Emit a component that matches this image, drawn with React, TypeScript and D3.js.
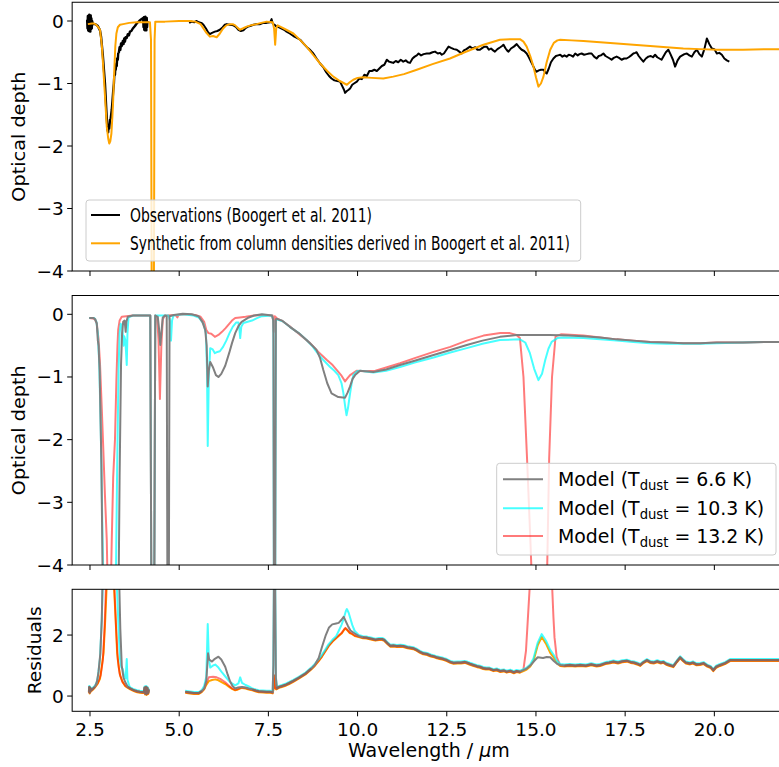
import React from 'react';
import * as d3 from 'd3';

type Pt = [number, number];

// ---------- Panel 1: observations & synthetic ----------
const obsSeg1: Pt[] = [[2.42,0.02],[2.43,-0.12],[2.44,0.08],[2.45,-0.15],[2.46,0.05],[2.47,-0.16],[2.48,0.1],[2.49,-0.14],[2.5,0.06],[2.51,-0.17],[2.52,0.09],[2.53,-0.13],[2.54,0.04],[2.55,-0.12],[2.56,0.0],[2.58,-0.05],[2.65,-0.05],[2.72,-0.08],[2.78,-0.15],[2.81,-0.25],[2.86,-0.55],[2.92,-1.0],[2.96,-1.45],[2.99,-1.74],[3.01,-1.78],[3.02,-1.66],[3.04,-1.72],[3.06,-1.58],[3.08,-1.56],[3.11,-1.42],[3.13,-1.28],[3.15,-1.12],[3.17,-1.0],[3.18,-0.88],[3.2,-0.86],[3.21,-0.74],[3.22,-0.78],[3.24,-0.68],[3.25,-0.72],[3.26,-0.6],[3.28,-0.62],[3.29,-0.52],[3.31,-0.5],[3.33,-0.42],[3.35,-0.46],[3.37,-0.36],[3.39,-0.4],[3.42,-0.32],[3.44,-0.37],[3.46,-0.28],[3.48,-0.33],[3.5,-0.26],[3.53,-0.27],[3.56,-0.21],[3.59,-0.23],[3.62,-0.17],[3.66,-0.16],[3.7,-0.12],[3.76,-0.08],[3.81,-0.04],[3.88,0.0],[3.94,0.03],[3.99,0.05],[4.0,-0.1],[4.01,0.06],[4.02,-0.14],[4.03,0.04],[4.04,-0.15],[4.05,0.07],[4.06,-0.12],[4.07,0.03],[4.08,-0.15],[4.09,0.05],[4.1,-0.1],[4.11,0.0]];

const obsSeg2: Pt[] = [[5.28,-0.03],[5.35,-0.01],[5.42,-0.02],[5.49,0.0],[5.55,-0.02],[5.62,-0.03],[5.68,-0.06],[5.75,-0.12],[5.81,-0.18],[5.86,-0.21],[5.92,-0.19],[6.0,-0.17],[6.07,-0.16],[6.14,-0.14],[6.22,-0.1],[6.28,-0.06],[6.33,-0.05],[6.42,-0.06],[6.52,-0.07],[6.6,-0.1],[6.66,-0.14],[6.73,-0.16],[6.8,-0.15],[6.87,-0.11],[6.93,-0.09],[6.99,-0.08],[7.08,-0.06],[7.17,-0.05],[7.27,-0.05],[7.36,-0.03],[7.45,-0.03],[7.55,-0.02],[7.59,0.03],[7.62,-0.04],[7.67,-0.06],[7.73,-0.09],[7.8,-0.1],[7.87,-0.12],[7.94,-0.14],[8.01,-0.17],[8.1,-0.2],[8.2,-0.24],[8.3,-0.27],[8.39,-0.3],[8.5,-0.37],[8.6,-0.43],[8.68,-0.47],[8.76,-0.52],[8.85,-0.6],[8.95,-0.68],[9.04,-0.74],[9.12,-0.82],[9.2,-0.88],[9.27,-0.92],[9.35,-0.95],[9.43,-0.96],[9.51,-0.97],[9.56,-1.03],[9.62,-1.1],[9.65,-1.15],[9.7,-1.12],[9.75,-1.1],[9.79,-1.08],[9.85,-1.02],[9.9,-1.0],[9.98,-0.97],[10.05,-0.92],[10.12,-0.93],[10.19,-0.86],[10.26,-0.88],[10.33,-0.8],[10.4,-0.8],[10.47,-0.78],[10.54,-0.8],[10.61,-0.76],[10.68,-0.72],[10.75,-0.7],[10.82,-0.62],[10.88,-0.65],[10.94,-0.66],[11.0,-0.67],[11.07,-0.64],[11.14,-0.66],[11.21,-0.62],[11.28,-0.65],[11.35,-0.63],[11.41,-0.66],[11.47,-0.67],[11.54,-0.6],[11.6,-0.57],[11.66,-0.55],[11.71,-0.52],[11.78,-0.55],[11.85,-0.53],[11.94,-0.52],[12.02,-0.52],[12.1,-0.5],[12.17,-0.49],[12.25,-0.52],[12.31,-0.51],[12.36,-0.54],[12.42,-0.52],[12.49,-0.46],[12.55,-0.41],[12.62,-0.43],[12.7,-0.45],[12.78,-0.46],[12.85,-0.49],[12.92,-0.52],[12.98,-0.47],[13.05,-0.45],[13.1,-0.43],[13.15,-0.41],[13.22,-0.44],[13.3,-0.42],[13.36,-0.46],[13.43,-0.46],[13.5,-0.43],[13.56,-0.41],[13.62,-0.41],[13.68,-0.46],[13.74,-0.44],[13.8,-0.47],[13.85,-0.49],[13.92,-0.45],[14.0,-0.42],[14.05,-0.4],[14.09,-0.38],[14.15,-0.44],[14.19,-0.47],[14.23,-0.49],[14.3,-0.44],[14.38,-0.41],[14.46,-0.37],[14.53,-0.42],[14.6,-0.46],[14.67,-0.48],[14.74,-0.52],[14.8,-0.58],[14.87,-0.66],[14.93,-0.73],[14.98,-0.79],[15.02,-0.81],[15.08,-0.79],[15.14,-0.78],[15.21,-0.78],[15.26,-0.82],[15.3,-0.84],[15.36,-0.76],[15.42,-0.66],[15.49,-0.6],[15.56,-0.56],[15.62,-0.55],[15.68,-0.54],[15.74,-0.57],[15.8,-0.55],[15.86,-0.57],[15.92,-0.54],[15.98,-0.55],[16.04,-0.57],[16.1,-0.52],[16.17,-0.55],[16.22,-0.53],[16.28,-0.52],[16.35,-0.54],[16.42,-0.53],[16.49,-0.52],[16.56,-0.52],[16.63,-0.57],[16.7,-0.6],[16.76,-0.56],[16.82,-0.55],[16.89,-0.52],[16.95,-0.56],[17.01,-0.58],[17.07,-0.6],[17.12,-0.62],[17.18,-0.59],[17.26,-0.57],[17.33,-0.59],[17.4,-0.62],[17.47,-0.6],[17.54,-0.6],[17.6,-0.58],[17.67,-0.55],[17.73,-0.52],[17.78,-0.51],[17.82,-0.5],[17.88,-0.56],[17.95,-0.61],[18.01,-0.65],[18.08,-0.6],[18.15,-0.57],[18.22,-0.56],[18.28,-0.58],[18.34,-0.54],[18.4,-0.58],[18.46,-0.6],[18.52,-0.62],[18.58,-0.56],[18.64,-0.5],[18.71,-0.46],[18.77,-0.53],[18.84,-0.62],[18.9,-0.73],[18.97,-0.63],[19.04,-0.57],[19.1,-0.55],[19.16,-0.53],[19.23,-0.52],[19.3,-0.55],[19.37,-0.57],[19.44,-0.5],[19.51,-0.46],[19.58,-0.53],[19.65,-0.57],[19.72,-0.45],[19.79,-0.28],[19.86,-0.37],[19.93,-0.44],[20.0,-0.45],[20.07,-0.52],[20.14,-0.51],[20.21,-0.54],[20.28,-0.6],[20.35,-0.63],[20.42,-0.65]];

const synthetic: Pt[] = [[2.44,-0.05],[2.55,-0.04],[2.62,-0.04],[2.67,-0.06],[2.72,-0.09],[2.78,-0.14],[2.83,-0.38],[2.87,-0.73],[2.92,-1.2],[2.97,-1.69],[3.01,-1.88],[3.04,-1.96],[3.07,-1.92],[3.1,-1.8],[3.13,-1.5],[3.15,-1.26],[3.18,-0.8],[3.21,-0.4],[3.24,-0.2],[3.28,-0.1],[3.34,-0.06],[3.43,-0.05],[3.6,-0.03],[3.8,-0.02],[4.0,-0.02],[4.18,-0.02],[4.21,-0.3],[4.23,-4.5],[4.29,-4.5],[4.31,-0.3],[4.33,-0.01],[4.6,-0.01],[5.0,0.0],[5.3,0.0],[5.45,-0.01],[5.6,-0.05],[5.75,-0.18],[5.86,-0.25],[5.95,-0.24],[6.05,-0.26],[6.14,-0.2],[6.23,-0.12],[6.32,-0.07],[6.42,-0.05],[6.5,-0.05],[6.57,-0.07],[6.64,-0.11],[6.7,-0.14],[6.78,-0.12],[6.89,-0.09],[7.0,-0.07],[7.17,-0.05],[7.3,-0.03],[7.45,-0.01],[7.62,-0.02],[7.66,-0.12],[7.69,-0.38],[7.72,-0.12],[7.76,-0.07],[7.83,-0.09],[8.0,-0.14],[8.2,-0.2],[8.4,-0.31],[8.57,-0.41],[8.75,-0.54],[8.95,-0.68],[9.15,-0.8],[9.32,-0.89],[9.5,-0.96],[9.7,-1.02],[9.78,-0.98],[9.88,-0.94],[10.0,-0.91],[10.16,-0.9],[10.4,-0.91],[10.72,-0.92],[11.0,-0.89],[11.3,-0.85],[11.66,-0.78],[12.1,-0.69],[12.59,-0.6],[13.0,-0.5],[13.53,-0.38],[13.99,-0.3],[14.3,-0.29],[14.55,-0.29],[14.65,-0.33],[14.74,-0.41],[14.84,-0.56],[14.93,-0.73],[15.0,-0.9],[15.07,-1.05],[15.14,-1.0],[15.21,-0.89],[15.3,-0.66],[15.4,-0.46],[15.5,-0.35],[15.6,-0.31],[15.68,-0.3],[16.0,-0.31],[16.33,-0.32],[16.8,-0.34],[17.27,-0.36],[17.73,-0.38],[18.2,-0.4],[18.66,-0.42],[19.13,-0.44],[19.6,-0.45],[20.07,-0.46],[20.8,-0.46],[21.56,-0.45],[22.0,-0.45]];

// ---------- Panel 2: models ----------
const model66: Pt[] = [[2.48,-0.06],[2.6,-0.06],[2.65,-0.08],[2.69,-0.15],[2.72,-0.42],[2.74,-0.5],[2.77,-0.9],[2.82,-2.4],[2.86,-4.5],[3.3,-4.5],[3.33,-2.6],[3.37,-0.8],[3.4,-0.3],[3.43,-0.12],[3.47,-0.1],[3.5,-0.28],[3.52,-0.12],[3.56,-0.04],[3.7,-0.02],[4.19,-0.02],[4.22,-4.5],[4.3,-4.5],[4.33,-0.02],[4.4,-0.04],[4.43,-0.2],[4.47,-0.49],[4.5,-0.3],[4.54,-0.05],[4.6,-0.02],[4.65,-0.03],[4.67,-4.5],[4.71,-4.5],[4.73,-0.03],[4.85,-0.01],[5.1,0.01],[5.35,0.0],[5.54,-0.03],[5.65,-0.12],[5.73,-0.25],[5.77,-0.5],[5.8,-1.15],[5.83,-0.9],[5.87,-0.76],[5.95,-0.85],[6.03,-0.97],[6.1,-1.0],[6.18,-0.95],[6.29,-0.82],[6.4,-0.62],[6.48,-0.46],[6.57,-0.3],[6.66,-0.19],[6.75,-0.12],[6.95,-0.05],[7.1,-0.02],[7.32,0.0],[7.6,-0.02],[7.64,-0.1],[7.655,-4.5],[7.69,-4.5],[7.71,-0.08],[7.73,-0.07],[7.88,-0.1],[8.1,-0.2],[8.35,-0.3],[8.57,-0.41],[8.75,-0.51],[8.85,-0.57],[8.95,-0.7],[9.04,-0.89],[9.15,-1.1],[9.27,-1.26],[9.46,-1.32],[9.65,-1.33],[9.72,-1.25],[9.79,-1.15],[9.86,-1.03],[9.93,-0.97],[10.07,-0.9],[10.44,-0.92],[10.8,-0.88],[11.19,-0.81],[11.6,-0.74],[12.13,-0.65],[12.6,-0.57],[13.06,-0.49],[13.5,-0.42],[13.99,-0.36],[14.46,-0.33],[15.0,-0.33],[15.39,-0.33],[15.9,-0.34],[16.33,-0.35],[16.8,-0.37],[17.26,-0.4],[17.73,-0.42],[18.2,-0.44],[18.66,-0.45],[19.13,-0.46],[19.6,-0.46],[20.07,-0.45],[20.8,-0.45],[21.56,-0.44],[22,-0.44]];

const model103: Pt[] = [[2.48,-0.06],[2.62,-0.06],[2.68,-0.12],[2.72,-0.3],[2.76,-0.8],[2.8,-1.8],[2.85,-3.5],[2.88,-4.5],[3.22,-4.5],[3.26,-2.5],[3.3,-0.9],[3.33,-0.3],[3.36,-0.15],[3.4,-0.2],[3.42,-0.32],[3.44,-0.5],[3.46,-0.35],[3.49,-0.41],[3.51,-0.6],[3.53,-0.81],[3.55,-0.3],[3.58,-0.05],[3.7,-0.02],[4.19,-0.02],[4.22,-4.5],[4.3,-4.5],[4.33,-0.02],[4.7,-0.02],[4.74,-0.1],[4.77,-0.42],[4.8,-0.1],[4.84,-0.02],[5.1,0.0],[5.4,-0.02],[5.55,-0.05],[5.68,-0.15],[5.75,-0.3],[5.78,-0.9],[5.8,-2.1],[5.83,-1.0],[5.87,-0.54],[5.94,-0.56],[6.0,-0.62],[6.07,-0.6],[6.14,-0.59],[6.23,-0.52],[6.32,-0.42],[6.41,-0.3],[6.5,-0.2],[6.6,-0.13],[6.66,-0.13],[6.69,-0.25],[6.71,-0.38],[6.74,-0.2],[6.8,-0.14],[6.92,-0.12],[7.04,-0.1],[7.18,-0.06],[7.32,-0.03],[7.6,-0.02],[7.64,-0.1],[7.655,-4.5],[7.69,-4.5],[7.71,-0.1],[7.73,-0.08],[7.9,-0.11],[8.1,-0.2],[8.35,-0.3],[8.57,-0.41],[8.75,-0.52],[8.85,-0.6],[9.04,-0.73],[9.23,-0.84],[9.35,-0.9],[9.46,-0.97],[9.55,-1.1],[9.6,-1.25],[9.66,-1.5],[9.69,-1.61],[9.73,-1.5],[9.79,-1.26],[9.84,-1.08],[9.88,-0.97],[9.98,-0.91],[10.07,-0.9],[10.44,-0.93],[10.8,-0.9],[11.19,-0.84],[11.6,-0.77],[12.13,-0.69],[12.6,-0.61],[13.06,-0.54],[13.5,-0.47],[13.99,-0.41],[14.55,-0.4],[14.7,-0.45],[14.83,-0.62],[14.95,-0.87],[15.07,-1.05],[15.17,-0.95],[15.26,-0.73],[15.35,-0.55],[15.44,-0.44],[15.6,-0.38],[15.77,-0.37],[16.33,-0.38],[16.8,-0.4],[17.26,-0.42],[17.73,-0.44],[18.2,-0.46],[18.66,-0.47],[19.13,-0.47],[19.6,-0.47],[20.07,-0.46],[20.8,-0.45],[21.56,-0.44],[22,-0.44]];

const model132: Pt[] = [[2.48,-0.06],[2.62,-0.07],[2.69,-0.14],[2.74,-0.4],[2.78,-0.78],[2.83,-1.5],[2.87,-2.11],[2.92,-2.9],[2.97,-3.6],[3.0,-4.5],[3.08,-4.5],[3.11,-3.6],[3.15,-2.6],[3.2,-2.0],[3.24,-1.05],[3.27,-0.5],[3.29,-0.25],[3.33,-0.1],[3.39,-0.04],[3.7,-0.02],[4.19,-0.02],[4.22,-4.5],[4.3,-4.5],[4.33,-0.02],[4.38,-0.05],[4.42,-0.4],[4.46,-1.35],[4.5,-0.5],[4.54,-0.08],[4.6,-0.02],[4.9,-0.01],[4.95,-0.05],[4.98,-0.01],[5.2,0.0],[5.45,-0.01],[5.6,-0.04],[5.7,-0.12],[5.76,-0.25],[5.82,-0.3],[5.9,-0.31],[6.0,-0.36],[6.1,-0.33],[6.2,-0.28],[6.3,-0.22],[6.39,-0.16],[6.48,-0.1],[6.57,-0.06],[6.7,-0.05],[6.86,-0.04],[7.1,-0.02],[7.4,-0.01],[7.62,-0.02],[7.65,-0.28],[7.68,-0.03],[7.75,-0.07],[7.9,-0.11],[8.1,-0.19],[8.35,-0.31],[8.67,-0.46],[8.9,-0.6],[9.14,-0.73],[9.3,-0.81],[9.42,-0.89],[9.55,-0.98],[9.65,-1.07],[9.72,-1.02],[9.79,-0.97],[9.98,-0.9],[10.2,-0.91],[10.5,-0.9],[10.8,-0.85],[11.19,-0.78],[11.6,-0.7],[12.13,-0.6],[12.6,-0.52],[13.06,-0.42],[13.53,-0.34],[14.0,-0.3],[14.27,-0.3],[14.45,-0.33],[14.55,-0.38],[14.65,-1.0],[14.75,-2.3],[14.85,-3.7],[14.9,-4.5],[15.3,-4.5],[15.37,-2.3],[15.45,-1.0],[15.55,-0.35],[15.7,-0.32],[16.33,-0.34],[16.8,-0.37],[17.26,-0.4],[17.73,-0.42],[18.2,-0.44],[18.66,-0.45],[19.13,-0.46],[19.6,-0.46],[20.07,-0.45],[20.8,-0.45],[21.56,-0.44],[22,-0.44]];

// ---------- Panel 3: residuals ----------
const resBase: Pt[] = [[2.47,0.14],[2.48,0.3],[2.49,0.12],[2.5,0.28],[2.51,0.15],[2.52,0.25],[2.54,0.2],[2.58,0.24],[2.63,0.3],[2.68,0.38],[2.72,0.45],[3.49,0.36],[3.56,0.3],[3.63,0.25],[3.7,0.21],[3.76,0.18],[3.82,0.16],[3.9,0.14],[3.97,0.13],[4.01,0.13],[4.03,0.28],[4.05,0.08],[4.07,0.3],[4.09,0.07],[4.11,0.27],[4.13,0.1],[4.15,0.22],[4.6,NaN],[5.17,0.14],[5.3,0.12],[5.42,0.1],[5.55,0.1],[5.63,0.16],[5.7,0.25],[5.76,0.4],[5.83,0.52],[5.92,0.56],[6.01,0.58],[6.1,0.55],[6.2,0.48],[6.3,0.42],[6.39,0.34],[6.48,0.27],[6.57,0.22],[6.65,0.25],[6.76,0.3],[6.86,0.28],[6.95,0.25],[7.05,0.22],[7.15,0.18],[7.23,0.16],[7.35,0.15],[7.45,0.14],[7.55,0.14],[7.62,0.12],[7.65,0.3],[7.67,0.7],[7.69,0.3],[7.72,0.25],[7.8,0.3],[7.9,0.34],[8.0,0.38],[8.07,0.42],[8.2,0.5],[8.35,0.6],[8.54,0.74],[8.7,0.9],[8.8,1.02],[8.91,1.18],[9.0,1.32],[9.1,1.5],[9.19,1.67],[9.3,1.82],[9.4,1.93],[9.47,2.0],[9.55,2.08],[9.62,2.2],[9.66,2.25],[9.72,2.18],[9.78,2.1],[9.85,2.06],[9.92,2.0],[10.03,1.97],[10.15,1.93],[10.25,1.92],[10.31,1.9],[10.4,1.88],[10.5,1.85],[10.6,1.87],[10.69,1.87],[10.75,1.84],[10.85,1.72],[10.92,1.65],[11.0,1.66],[11.1,1.64],[11.2,1.65],[11.28,1.64],[11.4,1.6],[11.56,1.57],[11.65,1.52],[11.75,1.45],[11.84,1.4],[11.95,1.38],[12.05,1.33],[12.15,1.3],[12.22,1.27],[12.3,1.25],[12.4,1.22],[12.5,1.18],[12.6,1.12],[12.69,1.09],[12.8,1.1],[12.9,1.1],[13.0,1.12],[13.06,1.1],[13.15,1.06],[13.25,1.02],[13.35,0.98],[13.43,0.96],[13.52,0.92],[13.6,0.9],[13.7,0.9],[13.81,0.85],[13.9,0.87],[14.0,0.82],[14.1,0.84],[14.18,0.8],[14.28,0.83],[14.38,0.78],[14.46,0.82],[14.55,0.8],[14.65,0.85],[14.74,0.9],[15.68,1.02],[15.8,1.0],[15.95,1.02],[16.1,1.0],[16.24,1.02],[16.4,1.0],[16.55,1.04],[16.7,1.0],[16.8,1.02],[16.95,1.08],[17.05,1.1],[17.17,1.13],[17.3,1.1],[17.42,1.14],[17.55,1.16],[17.65,1.12],[17.75,1.1],[17.85,1.06],[17.92,1.02],[18.0,1.1],[18.11,1.18],[18.2,1.12],[18.3,1.1],[18.4,1.14],[18.5,1.1],[18.57,1.12],[18.65,1.06],[18.75,1.02],[18.85,0.98],[18.95,1.14],[19.04,1.27],[19.12,1.18],[19.2,1.1],[19.32,1.07],[19.4,1.1],[19.5,1.04],[19.6,1.05],[19.7,1.08],[19.8,1.0],[19.9,0.95],[19.97,0.85],[20.05,0.96],[20.16,1.02],[20.3,1.08],[20.44,1.18],[20.6,1.18],[21.0,1.18],[21.5,1.18],[22.0,1.18]];

const resSynthFeatures: Pt[][] = [
  [[2.72,0.45],[2.78,0.6],[2.83,1.0],[2.88,1.45],[2.93,2.6],[2.97,3.7],[3.17,3.7],[3.22,2.5],[3.26,1.45],[3.31,0.95],[3.35,0.69],[3.42,0.48],[3.49,0.36]],
  [[14.74,0.9],[14.84,1.0],[14.93,1.18],[15.05,1.7],[15.16,1.97],[15.28,1.75],[15.4,1.45],[15.49,1.31],[15.58,1.12],[15.68,1.02]],
];
const res132Features: Pt[][] = [
  [[2.72,0.45],[2.8,0.7],[2.86,1.2],[2.91,2.3],[2.95,3.7],[3.18,3.7],[3.23,2.3],[3.28,1.2],[3.33,0.75],[3.4,0.5],[3.49,0.36]],
  [[5.7,0.25],[5.76,0.45],[5.83,0.63],[5.95,0.65],[6.05,0.63],[6.15,0.58],[6.29,0.47],[6.4,0.35],[6.48,0.27]],
  [[14.55,0.8],[14.65,0.9],[14.72,1.5],[14.77,2.49],[14.83,3.7],[15.45,3.7],[15.49,2.6],[15.52,1.94],[15.58,1.3],[15.68,1.02]],
];
const res103Features: Pt[][] = [
  [[2.68,0.38],[2.72,0.6],[2.78,1.2],[2.83,2.5],[2.86,3.7],[3.25,3.7],[3.3,2.2],[3.34,1.2],[3.38,0.9],[3.42,0.85],[3.46,0.6],[3.5,0.55],[3.53,1.18],[3.55,0.5],[3.6,0.3],[3.63,0.25]],
  [[5.63,0.16],[5.7,0.3],[5.76,0.6],[5.8,2.33],[5.83,1.2],[5.87,0.9],[5.95,0.97],[6.01,1.0],[6.1,0.9],[6.2,0.74],[6.3,0.6],[6.39,0.47],[6.48,0.38],[6.57,0.32],[6.66,0.38],[6.71,0.58],[6.76,0.4],[6.86,0.33],[6.95,0.28]],
  [[7.62,0.12],[7.64,1.0],[7.655,3.7],[7.69,3.7],[7.71,0.6],[7.74,0.25]],
  [[9.3,1.82],[9.4,1.93],[9.47,2.1],[9.55,2.3],[9.61,2.5],[9.67,2.75],[9.7,2.82],[9.75,2.7],[9.8,2.5],[9.85,2.3],[9.92,2.1],[10.03,1.97]],
  [[14.74,0.9],[14.84,1.0],[14.93,1.2],[15.05,1.72],[15.16,2.0],[15.28,1.78],[15.4,1.48],[15.49,1.33],[15.58,1.13],[15.68,1.02]],
];
const res66Features: Pt[][] = [
  [[2.65,0.33],[2.7,0.5],[2.74,0.8],[2.79,1.4],[2.83,2.5],[2.85,3.7],[3.32,3.7],[3.35,2.2],[3.39,1.0],[3.44,0.6],[3.49,0.45],[3.56,0.3]],
  [[5.7,0.25],[5.76,0.5],[5.81,1.4],[5.84,1.2],[5.92,1.13],[6.0,1.22],[6.1,1.29],[6.18,1.2],[6.29,0.96],[6.36,0.7],[6.43,0.47],[6.5,0.32],[6.57,0.25],[6.65,0.28]],
  [[7.62,0.12],[7.64,1.0],[7.655,3.7],[7.69,3.7],[7.71,0.6],[7.74,0.25]],
  [[8.8,1.02],[8.91,1.25],[9.0,1.6],[9.11,2.0],[9.2,2.25],[9.29,2.35],[9.4,2.38],[9.47,2.4],[9.55,2.5],[9.61,2.6],[9.67,2.45],[9.73,2.3],[9.8,2.15],[9.92,2.05],[10.03,1.97]],
  [[14.74,0.9],[14.84,1.0],[14.95,1.15],[15.05,1.27],[15.2,1.25],[15.3,1.28],[15.4,1.27],[15.5,1.15],[15.6,1.05],[15.68,1.02]],
];
// brown trace: shares the baseline, interrupted where the coloured features sit
const resBrownBreaks: Pt[][] = [
  [[2.66,NaN],[3.5,NaN]],
  [[5.66,NaN],[6.95,NaN]],
  [[7.63,NaN],[7.71,NaN]],
  [[8.8,NaN],[10.03,NaN]],
  [[14.6,NaN],[15.7,NaN]],
];

const xTicks = [2.5, 5.0, 7.5, 10.0, 12.5, 15.0, 17.5, 20.0];
const odTicks = [0, -1, -2, -3, -4];
const resTicks = [0, 2];
const legend1Labels = ['Observations (Boogert et al. 2011)', 'Synthetic from column densities derived in Boogert et al. 2011)'];
const legend2Temps = ['6.6', '10.3', '13.2'];

function withFeatures(base: Pt[], feats: Pt[][]): Pt[] {
  let out = base.slice();
  for (const f of feats) {
    const lo = f[0][0], hi = f[f.length - 1][0];
    out = out.filter(p => p[0] < lo || p[0] > hi).concat(f);
    out.sort((a, b) => a[0] - b[0]);
  }
  return out;
}

const FONT = 'DejaVu Sans, Verdana, sans-serif';

export default function App() {
  const x = d3.scaleLinear().domain([2, 22]).range([72.16, 785.7]);
  const y1 = d3.scaleLinear().domain([-4, 0.3]).range([271, 2.25]);
  const y2 = d3.scaleLinear().domain([-4, 0.3]).range([565, 295.5]);
  const y3 = d3.scaleLinear().domain([-0.5, 3.5]).range([711.3, 589.3]);

  const mk = (y: d3.ScaleLinear<number, number>) =>
    d3.line<Pt>().defined(d => !isNaN(d[1])).x(d => x(d[0])).y(d => y(d[1]));
  const l1 = mk(y1), l2 = mk(y2), l3 = mk(y3);

  const rSynth = withFeatures(resBase, resSynthFeatures);
  const r132 = withFeatures(resBase, res132Features);
  const r103 = withFeatures(resBase, res103Features);
  const r66 = withFeatures(resBase, res66Features);
  const rBrown = withFeatures(resBase, resBrownBreaks);

  const panels = [
    { y: y1, id: 'c1', ticks: odTicks, labels: false },
    { y: y2, id: 'c2', ticks: odTicks, labels: false },
    { y: y3, id: 'c3', ticks: resTicks, labels: true },
  ];

  const fmt = (v: number) => (v < 0 ? '\u2212' + Math.abs(v) : String(v));
  const TICK_FS = 18.5;

  return (
    <svg width={779} height={767} style={{ position: 'absolute', left: 0, top: 0, background: '#fff' }} fontFamily={FONT}>
      <defs>
        {panels.map(p => (
          <clipPath id={p.id} key={p.id}>
            <rect x={x(2)} y={p.y.range()[1]} width={x(22) - x(2)} height={p.y.range()[0] - p.y.range()[1]} />
          </clipPath>
        ))}
      </defs>
      <rect x={0} y={0} width={779} height={767} fill="#fff" />

      {/* Panel 1 */}
      <g clipPath="url(#c1)" fill="none" strokeLinejoin="round">
        <path d={l1(obsSeg1) || ''} stroke="#000" strokeWidth={2.4} />
        <path d={l1(obsSeg2) || ''} stroke="#000" strokeWidth={2} />
        <path d={l1(synthetic) || ''} stroke="#ffa500" strokeWidth={2} />
      </g>

      {/* Panel 2 */}
      <g clipPath="url(#c2)" fill="none" strokeLinejoin="round">
        <path d={l2(model132) || ''} stroke="#ff0000" strokeOpacity={0.52} strokeWidth={2} />
        <path d={l2(model103) || ''} stroke="#00ffff" strokeOpacity={0.72} strokeWidth={2} />
        <path d={l2(model66) || ''} stroke="#808080" strokeWidth={2} />
      </g>

      {/* Panel 3 */}
      <g clipPath="url(#c3)" fill="none" strokeLinejoin="round">
        <path d={l3(rSynth) || ''} stroke="#ffa500" strokeWidth={2} transform="translate(0,1)" />
        <path d={l3(r132) || ''} stroke="#ff0000" strokeOpacity={0.52} strokeWidth={2} transform="translate(0,0.5)" />
        <path d={l3(r103) || ''} stroke="#00ffff" strokeOpacity={0.72} strokeWidth={2} transform="translate(0,-1)" />
        <path d={l3(r66) || ''} stroke="#808080" strokeWidth={2} />
        <path d={l3(rBrown) || ''} stroke="#8c564b" strokeOpacity={0.6} strokeWidth={2.2} />
      </g>

      {/* Axes frames, ticks */}
      {panels.map(p => {
        const [yb, yt] = p.y.range();
        return (
          <g key={'ax' + p.id}>
            <rect x={x(2)} y={yt} width={x(22) - x(2)} height={yb - yt} fill="none" stroke="#000" strokeWidth={1} />
            {xTicks.map(t => (
              <g key={t}>
                <line x1={x(t)} x2={x(t)} y1={yb} y2={yb + 5} stroke="#000" strokeWidth={1} />
                {p.labels && (
                  <text x={x(t)} y={yb + 24.5} fontSize={TICK_FS} textAnchor="middle" fill="#000">{t.toFixed(1)}</text>
                )}
              </g>
            ))}
            {p.ticks.map(t => (
              <g key={t}>
                <line x1={x(2) - 5} x2={x(2)} y1={p.y(t)} y2={p.y(t)} stroke="#000" strokeWidth={1} />
                <text x={x(2) - 8.5} y={p.y(t) + 6.5} fontSize={TICK_FS} textAnchor="end" fill="#000">{fmt(t)}</text>
              </g>
            ))}
          </g>
        );
      })}

      {/* Axis labels */}
      <text transform={`translate(25,${(y1.range()[0] + y1.range()[1]) / 2}) rotate(-90)`} fontSize={18.5} textAnchor="middle" textLength={130} lengthAdjust="spacingAndGlyphs">Optical depth</text>
      <text transform={`translate(25,${(y2.range()[0] + y2.range()[1]) / 2}) rotate(-90)`} fontSize={18.5} textAnchor="middle" textLength={130} lengthAdjust="spacingAndGlyphs">Optical depth</text>
      <text transform={`translate(41,${(y3.range()[0] + y3.range()[1]) / 2}) rotate(-90)`} fontSize={18.5} textAnchor="middle" textLength={88} lengthAdjust="spacingAndGlyphs">Residuals</text>
      <text x={(x(2) + x(22)) / 2} y={757} fontSize={19} textAnchor="middle">
        Wavelength / <tspan fontStyle="italic">μ</tspan>m
      </text>

      {/* Legend 1 */}
      <g>
        <rect x={86} y={200} width={494.7} height={61} rx={3} fill="#fff" fillOpacity={0.8} stroke="#cccccc" strokeWidth={1} />
        <line x1={91} x2={120} y1={215} y2={215} stroke="#000" strokeWidth={2} />
        <line x1={91} x2={120} y1={243.3} y2={243.3} stroke="#ffa500" strokeWidth={2} />
        <text x={130} y={221.5} fontSize={19} textLength={242} lengthAdjust="spacingAndGlyphs">{legend1Labels[0]}</text>
        <text x={130} y={249.8} fontSize={19} textLength={440} lengthAdjust="spacingAndGlyphs">{legend1Labels[1]}</text>
      </g>

      {/* Legend 2 */}
      <g>
        <rect x={496.7} y={463.3} width={279.3} height={91.7} rx={3} fill="#fff" fillOpacity={0.8} stroke="#cccccc" strokeWidth={1} />
        {legend2Temps.map((t, i) => {
          const cy = [479.3, 508.3, 536][i];
          const col = ['#808080', '#00ffff', '#ff0000'][i];
          const op = [1, 0.72, 0.52][i];
          return (
            <g key={t}>
              <line x1={503} x2={543} y1={cy} y2={cy} stroke={col} strokeOpacity={op} strokeWidth={2} />
              <text x={558} y={cy + 6.5} fontSize={18.9}>
                Model (T<tspan fontSize={13.2} dy={4.2}>dust</tspan><tspan dy={-4.2}>{` = ${t} K)`}</tspan>
              </text>
            </g>
          );
        })}
      </g>
    </svg>
  );
}
